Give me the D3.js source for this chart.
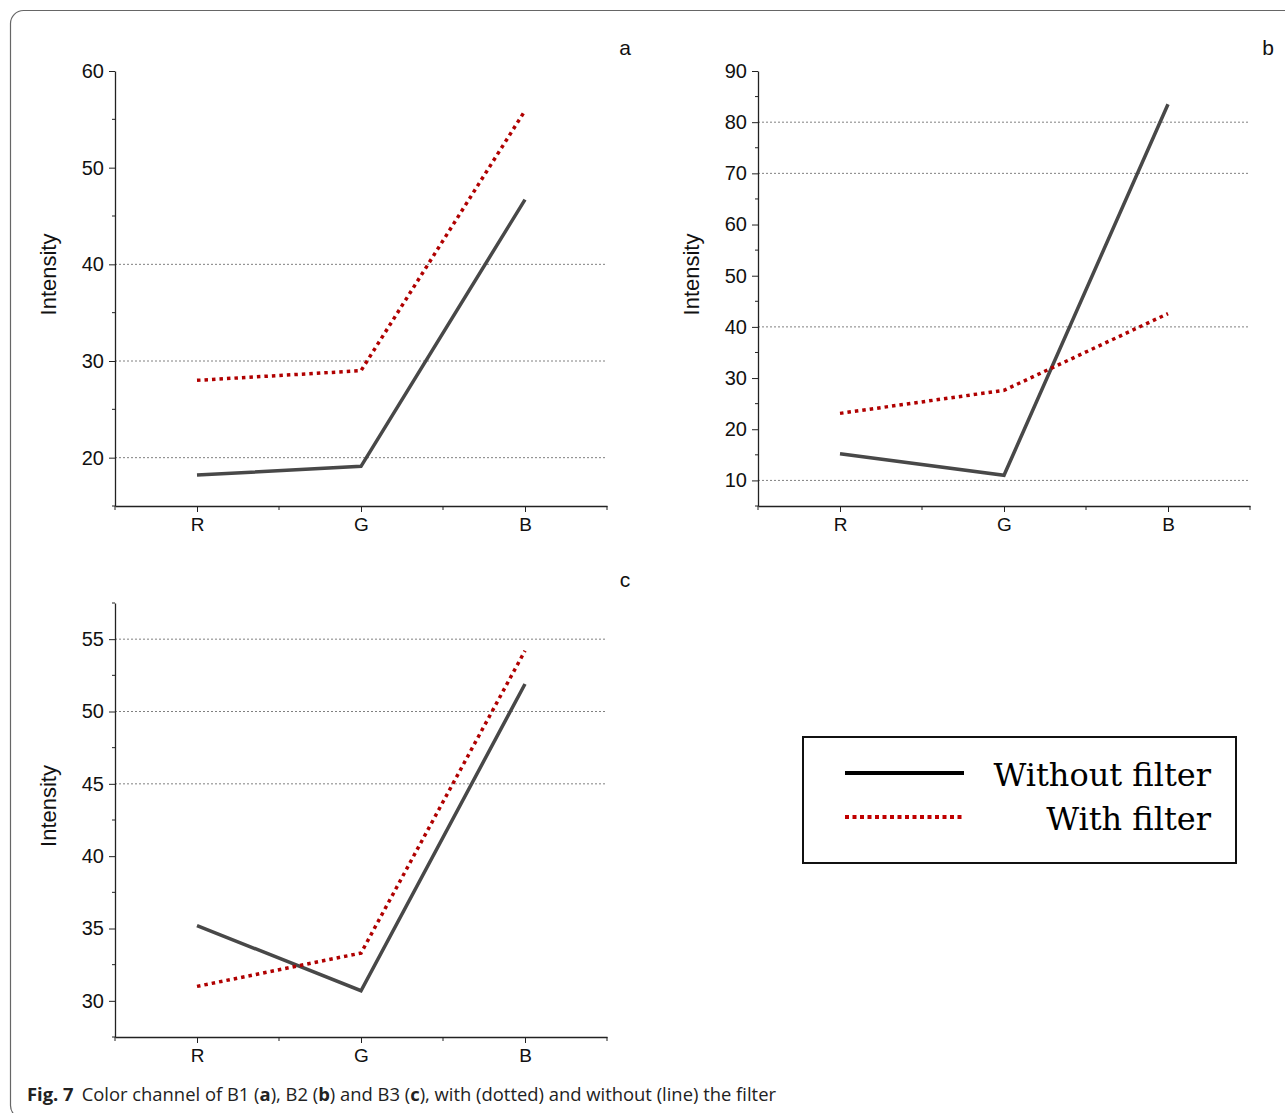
<!DOCTYPE html>
<html>
<head>
<meta charset="utf-8">
<script src="https://d3js.org/d3.v7.min.js"></script>
<style>
  body { margin: 0; background: #fff; }
  svg { display: block; }
  .tick text { font-family: "Liberation Sans", Arial, sans-serif; }
</style>
</head>
<body>
<svg width="1285" height="1113"></svg>
<script>
// channels on the x axis
var channels = ["R", "G", "B"];

// panel a (B1)
var aWithout = [18.2, 19.1, 46.7];
var aWith = [28.0, 29.0, 55.9];
var aTicks = [20, 30, 40, 50, 60];
var aGrid = [20, 30, 40];

// panel b (B2)
var bWithout = [15.2, 11.0, 83.5];
var bWith = [23.1, 27.6, 42.6];
var bTicks = [10, 20, 30, 40, 50, 60, 70, 80, 90];
var bGrid = [10, 40, 70, 80];

// panel c (B3)
var cWithout = [35.2, 30.7, 51.9];
var cWith = [31.0, 33.3, 54.2];
var cTicks = [30, 35, 40, 45, 50, 55];
var cGrid = [45, 50, 55];

var legendLabels = ["Without filter", "With filter"];

var svg = d3.select("svg");

// outer frame of the figure
svg.append("rect")
  .attr("x", 10.5).attr("y", 10.5)
  .attr("width", 1300).attr("height", 1108)
  .attr("rx", 13)
  .attr("fill", "none")
  .attr("stroke", "#666")
  .attr("stroke-width", 1.2);

var panels = [
  {id: "a", left: 115, top: 71, bottom: 506, domain: [15, 60], ticks: aTicks, grid: aGrid, without: aWithout, withF: aWith},
  {id: "b", left: 758, top: 71, bottom: 506, domain: [5, 90], ticks: bTicks, grid: bGrid, without: bWithout, withF: bWith},
  {id: "c", left: 115, top: 603, bottom: 1037, domain: [27.5, 57.5], ticks: cTicks, grid: cGrid, without: cWithout, withF: cWith}
];

panels.forEach(function(p) {
  var w = 492;
  var x = d3.scalePoint().domain(channels).range([p.left, p.left + w]).padding(0.5);
  var y = d3.scaleLinear().domain(p.domain).range([p.bottom, p.top]);
  var g = svg.append("g");

  // grid lines (dotted)
  g.selectAll(".grid")
    .data(p.grid)
    .enter()
    .append("line")
    .attr("x1", p.left).attr("x2", p.left + w)
    .attr("y1", function(d) { return y(d); })
    .attr("y2", function(d) { return y(d); })
    .attr("stroke", "#808080")
    .attr("stroke-width", 1)
    .attr("stroke-dasharray", "2,2");

  // minor y ticks halfway between majors
  var step = p.ticks[1] - p.ticks[0];
  var minor = [];
  for (var v = p.ticks[0] - step / 2; v <= p.domain[1]; v += step) {
    if (v >= p.domain[0]) minor.push(v);
  }
  g.selectAll(".minory")
    .data(minor)
    .enter()
    .append("line")
    .attr("x1", p.left - 3).attr("x2", p.left)
    .attr("y1", function(d) { return y(d); })
    .attr("y2", function(d) { return y(d); })
    .attr("stroke", "#222");

  var yAxis = g.append("g")
    .attr("transform", "translate(" + p.left + ",0)")
    .call(d3.axisLeft(y).tickValues(p.ticks).tickSize(6).tickPadding(5).tickSizeOuter(0));
  yAxis.select(".domain").attr("stroke", "#222").attr("stroke-width", 1.3);
  yAxis.selectAll(".tick line").attr("stroke", "#222");
  yAxis.selectAll(".tick text").attr("font-size", 20).attr("fill", "#111");

  // x axis: major ticks at channels, minor in between
  var xAxis = g.append("g")
    .attr("transform", "translate(0," + p.bottom + ")")
    .call(d3.axisBottom(x).tickSize(6).tickPadding(6).tickSizeOuter(0));
  xAxis.select(".domain").attr("stroke", "#222").attr("stroke-width", 1.3);
  xAxis.selectAll(".tick line").attr("stroke", "#222");
  xAxis.selectAll(".tick text").attr("font-size", 19).attr("fill", "#111");

  var xMinor = [p.left, p.left + x.step(), p.left + 2 * x.step(), p.left + w];
  g.selectAll(".minorx")
    .data(xMinor)
    .enter()
    .append("line")
    .attr("x1", function(d) { return d; })
    .attr("x2", function(d) { return d; })
    .attr("y1", p.bottom).attr("y2", p.bottom + 4)
    .attr("stroke", "#222");

  // y title
  g.append("text")
    .attr("transform", "translate(" + (p.left - 59) + "," + ((p.top + p.bottom) / 2 - 14) + ") rotate(-90)")
    .attr("text-anchor", "middle")
    .attr("font-family", "Liberation Sans, Arial, sans-serif")
    .attr("font-size", 22)
    .attr("fill", "#111")
    .text("Intensity");

  // panel letter
  g.append("text")
    .attr("x", p.left + w + 18)
    .attr("y", p.top - 16)
    .attr("text-anchor", "middle")
    .attr("font-family", "Liberation Sans, Arial, sans-serif")
    .attr("font-size", 21)
    .attr("fill", "#111")
    .text(p.id);

  var line = d3.line()
    .x(function(d, i) { return x(channels[i]); })
    .y(function(d) { return y(d); });

  g.append("path")
    .datum(p.without)
    .attr("d", line)
    .attr("fill", "none")
    .attr("stroke", "#484848")
    .attr("stroke-width", 3.5);

  g.append("path")
    .datum(p.withF)
    .attr("d", line)
    .attr("fill", "none")
    .attr("stroke", "#b00000")
    .attr("stroke-width", 3.5)
    .attr("stroke-dasharray", "3.5,4");
});

// legend box
var lg = svg.append("g");
lg.append("rect")
  .attr("x", 803).attr("y", 737)
  .attr("width", 433).attr("height", 126)
  .attr("fill", "none")
  .attr("stroke", "#111")
  .attr("stroke-width", 2);

lg.selectAll(".lgline")
  .data(legendLabels)
  .enter()
  .append("line")
  .attr("x1", 845).attr("x2", 964)
  .attr("y1", function(d, i) { return 773 + i * 44; })
  .attr("y2", function(d, i) { return 773 + i * 44; })
  .attr("stroke", function(d, i) { return i === 0 ? "#000" : "#c00000"; })
  .attr("stroke-width", 4)
  .attr("stroke-dasharray", function(d, i) { return i === 0 ? null : "4,3.5"; });

lg.selectAll(".lgtext")
  .data(legendLabels)
  .enter()
  .append("text")
  .attr("x", 1211)
  .attr("y", function(d, i) { return 786 + i * 44; })
  .attr("text-anchor", "end")
  .attr("font-family", "DejaVu Serif, Liberation Serif, serif")
  .attr("font-size", 32)
  .attr("fill", "#000")
  .text(function(d) { return d; });

// caption
var cap = svg.append("text")
  .attr("x", 27).attr("y", 1101)
  .attr("font-family", "Open Sans, Noto Sans, sans-serif")
  .attr("font-size", 18.4)
  .attr("fill", "#222");
cap.append("tspan").attr("font-weight", "bold").text("Fig. 7");
cap.append("tspan").attr("dx", 8).text("Color channel of B1 (");
cap.append("tspan").attr("font-weight", "bold").text("a");
cap.append("tspan").text("), B2 (");
cap.append("tspan").attr("font-weight", "bold").text("b");
cap.append("tspan").text(") and B3 (");
cap.append("tspan").attr("font-weight", "bold").text("c");
cap.append("tspan").text("), with (dotted) and without (line) the filter");
</script>
</body>
</html>
